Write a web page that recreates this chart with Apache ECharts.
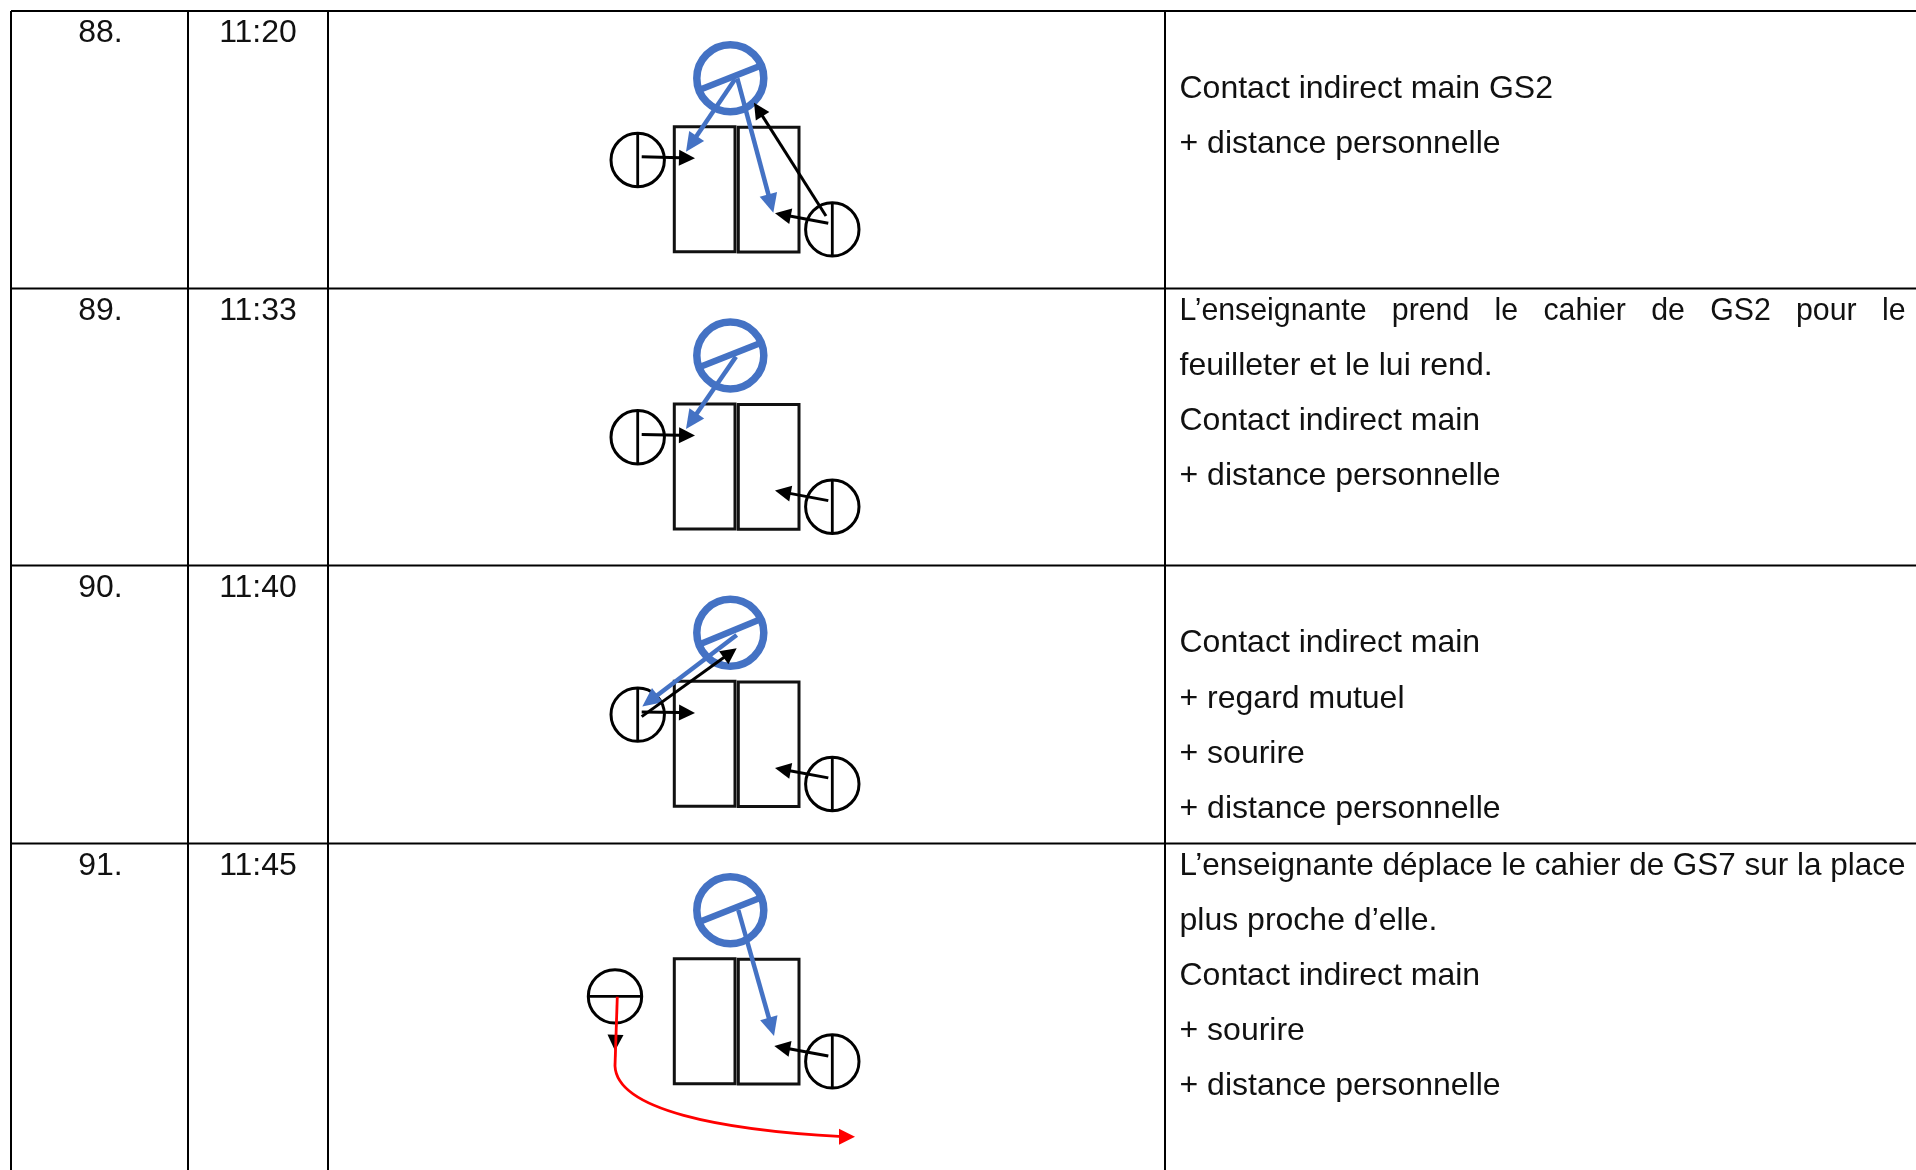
<!DOCTYPE html>
<html><head><meta charset="utf-8">
<style>html,body{margin:0;padding:0;background:#fff}#c{width:1916px;height:1170px}</style>
<script src="https://cdn.jsdelivr.net/npm/echarts@6/dist/echarts.min.js"></script>
</head><body><div id="c"></div>
<script>
// ---- table content ----
const rowNumbers = ['88.', '89.', '90.', '91.'];
const rowTimes = ['11:20', '11:33', '11:40', '11:45'];
const rowNotes = [
  [[89.5, 'Contact indirect main GS2'], [144.5, '+ distance personnelle']],
  [[311.5, 'L\u2019enseignante   prend   le   cahier   de   GS2   pour   le', 1], [366.5, 'feuilleter et le lui rend.'], [421.5, 'Contact indirect main'], [476.5, '+ distance personnelle']],
  [[643.5, 'Contact indirect main'], [699.5, '+ regard mutuel'], [754.5, '+ sourire'], [809.5, '+ distance personnelle']],
  [[866.5, 'L\u2019enseignante déplace le cahier de GS7 sur la place', 1], [921.5, 'plus proche d\u2019elle.'], [976.5, 'Contact indirect main'], [1031.5, '+ sourire'], [1086.5, '+ distance personnelle']]
];
const rowTextY = [33, 311, 588, 866];
// ---- read-off values, in page units ----
const rowShift = [0, 277.3, 554.6, 832];
const gridRows = [11, 288.5, 565.5, 843.5];
const gridCols = [11, 188, 328, 1165];
const desks = [[674.3, 126.7, 735, 251.7], [738.3, 127.3, 799, 252]];
const teacherHead = [730.3, 78.2];
const teacherBar = [[701.7, 89], [760.5, 65.7]];
const teacherBarRow3 = [[701.7, 89], [758, 65.7]];
const studentLeft = [637.7, 160];
const studentRight = [832.3, 229.4];
const studentMoved = [615, 996.4];
const blueArrows = [
  [735, 79.3, 686, 151.7], [737.3, 78.3, 773.3, 212.7],
  [736, 79.3, 686, 151.7],
  [736.7, 80.4, 642.3, 152],
  [738.3, 78, 774, 204]
];
const blueArrowRow = [0, 0, 1, 2, 3];
const blackArrows = [
  [641.7, 156.7, 695, 158.3], [828.3, 223.3, 775, 213.3], [826, 216, 754, 102.7],
  [641.7, 157.3, 695, 158.3], [828.3, 223.3, 775, 213.3],
  [641.7, 157.3, 695, 158.3], [828.3, 223.3, 775, 213.3], [641.7, 162, 736.7, 93.7],
  [828.3, 224, 774.3, 214]
];
const blackArrowRow = [0, 0, 0, 1, 1, 2, 2, 2, 3];
const blackDownArrow = [616.7, 996, 615, 1050.7];
const redStem = [617.3, 996.7, 615, 1066];
const redCurve = [615, 1066, 617, 1110, 720, 1130, 843, 1136.7];
const redTip = [843, 1136.7, 855, 1136.7];

const BLUE = '#4472C4', RED = '#FF0000', BLACK = '#000';
const FONT = '"Liberation Sans", Arial, sans-serif';
const FS = 32;
const measure = document.createElement('canvas').getContext('2d');
measure.font = FS + 'px ' + FONT;

function lineEl(api, v, stroke, w) {
  const a = api.coord([v[0], v[1]]), b = api.coord([v[2], v[3]]);
  return {type: 'line', shape: {x1: a[0], y1: a[1], x2: b[0], y2: b[1]}, style: {stroke, lineWidth: w, fill: null}};
}
function arrowEls(api, v, color, w, len, wid, noLine) {
  const a = api.coord([v[0], v[1]]), t = api.coord([v[2], v[3]]);
  const dx = t[0] - a[0], dy = t[1] - a[1], d = Math.hypot(dx, dy), ux = dx / d, uy = dy / d;
  const bx = t[0] - ux * len, by = t[1] - uy * len;
  const head = {type: 'polygon', shape: {points: [t, [bx - uy * wid / 2, by + ux * wid / 2], [bx + uy * wid / 2, by - ux * wid / 2]]}, style: {fill: color}};
  if (noLine) return [head];
  return [{type: 'line', shape: {x1: a[0], y1: a[1], x2: bx + ux, y2: by + uy}, style: {stroke: color, lineWidth: w}}, head];
}
function custom(data, renderItem, z) {
  return {type: 'custom', coordinateSystem: 'cartesian2d', data, renderItem, z, silent: true, clip: false, animation: false};
}
function circleEl(api, c, r, stroke, w) {
  const p = api.coord(c);
  return {type: 'circle', shape: {cx: p[0], cy: p[1], r}, style: {stroke, lineWidth: w, fill: null}};
}

const gridSegs = gridRows.map(y => [gridCols[0], y, 1916, y])
  .concat(gridCols.map(x => [x, gridRows[0], x, 1170]));
const deskSegs = [];
rowShift.forEach(s => desks.forEach(d => deskSegs.push([d[0], d[1] + s, d[2], d[3] + s])));

// students: [cx, cy, horizontal divider?]
const students = [];
rowShift.forEach((s, i) => {
  if (i < 3) students.push([studentLeft[0], studentLeft[1] + s, 0]);
  students.push([studentRight[0], studentRight[1] + s, 0]);
});
students.push([studentMoved[0], studentMoved[1], 1]);

const teachers = rowShift.map((s, i) => {
  const b = i === 2 ? teacherBarRow3 : teacherBar;
  return [teacherHead[0], teacherHead[1] + s, b[0][0], b[0][1] + s, b[1][0], b[1][1] + s];
});
const blueData = blueArrows.map((a, i) => { const s = rowShift[blueArrowRow[i]]; return [a[0], a[1] + s, a[2], a[3] + s]; });
const blackData = blackArrows.map((a, i) => { const s = rowShift[blackArrowRow[i]]; return [a[0], a[1] + s, a[2], a[3] + s]; });

const textData = [];
rowNumbers.forEach((t, i) => textData.push([100.5, rowTextY[i], t, 'center', 0]));
rowTimes.forEach((t, i) => textData.push([258, rowTextY[i], t, 'center', 0]));
rowNotes.forEach(r => r.forEach(l => textData.push([1179.5, l[0], l[1], 'left', l[2] ? 726 : 0])));

const R = 26.7;
const chart = echarts.init(document.getElementById('c'), null, {renderer: 'canvas'});
chart.setOption({
  animation: false,
  backgroundColor: '#fff',
  grid: {left: 0, right: 0, top: 0, bottom: 0},
  xAxis: {type: 'value', min: 0, max: 1916, show: false},
  yAxis: {type: 'value', min: 0, max: 1170, inverse: true, show: false},
  series: [
    custom(gridSegs, (p, api) => lineEl(api, [api.value(0), api.value(1), api.value(2), api.value(3)], BLACK, 2), 1),
    custom(deskSegs, (p, api) => {
      const a = api.coord([api.value(0), api.value(1)]), b = api.coord([api.value(2), api.value(3)]);
      return {type: 'rect', shape: {x: a[0], y: a[1], width: b[0] - a[0], height: b[1] - a[1]}, style: {stroke: '#111', lineWidth: 3, fill: null}};
    }, 2),
    custom(students, (p, api) => {
      const c = [api.value(0), api.value(1)], h = api.value(2);
      const seg = h ? [c[0] - R, c[1], c[0] + R, c[1]] : [c[0], c[1] - R, c[0], c[1] + R];
      return {type: 'group', children: [circleEl(api, c, R, BLACK, 3), lineEl(api, seg, BLACK, 2.8)]};
    }, 3),
    custom(teachers, (p, api) => ({type: 'group', children: [
      circleEl(api, [api.value(0), api.value(1)], 33.5, BLUE, 7.5),
      lineEl(api, [api.value(2), api.value(3), api.value(4), api.value(5)], BLUE, 6.5)
    ]}), 4),
    custom(blueData, (p, api) => ({type: 'group', children: arrowEls(api, [api.value(0), api.value(1), api.value(2), api.value(3)], BLUE, 4.5, 19, 18)}), 5),
    custom(blackData, (p, api) => ({type: 'group', children: arrowEls(api, [api.value(0), api.value(1), api.value(2), api.value(3)], BLACK, 3, 16, 16)}), 6),
    custom([blackDownArrow], (p, api) => ({type: 'group', children: arrowEls(api, [api.value(0), api.value(1), api.value(2), api.value(3)], BLACK, 3, 16, 16, true)}), 7),
    custom([redStem], (p, api) => lineEl(api, [api.value(0), api.value(1), api.value(2), api.value(3)], RED, 2.8), 8),
    custom([redCurve], (p, api) => {
      const c = [0, 2, 4, 6].map(i => api.coord([api.value(i), api.value(i + 1)]));
      return {type: 'bezierCurve', shape: {x1: c[0][0], y1: c[0][1], cpx1: c[1][0], cpy1: c[1][1], cpx2: c[2][0], cpy2: c[2][1], x2: c[3][0], y2: c[3][1]}, style: {stroke: RED, lineWidth: 2.8, fill: null}};
    }, 8),
    custom([redTip], (p, api) => ({type: 'group', children: arrowEls(api, [api.value(0), api.value(1), api.value(2), api.value(3)], RED, 2.8, 16, 16, true)}), 9),
    {
      type: 'custom', coordinateSystem: 'cartesian2d', silent: true, clip: false, animation: false, z: 10,
      data: textData.map(t => [t[0], t[1]]),
      renderItem: (p, api) => {
        const t = textData[p.dataIndex], q = api.coord([api.value(0), api.value(1)]);
        const sx = t[4] ? t[4] / measure.measureText(t[2]).width : 1;
        return {type: 'text', x: q[0], y: q[1], scaleX: sx,
          style: {text: t[2], x: 0, y: 0, align: t[3], verticalAlign: 'middle', fill: '#111', font: FS + 'px ' + FONT}};
      }
    }
  ]
});
</script></body></html>
